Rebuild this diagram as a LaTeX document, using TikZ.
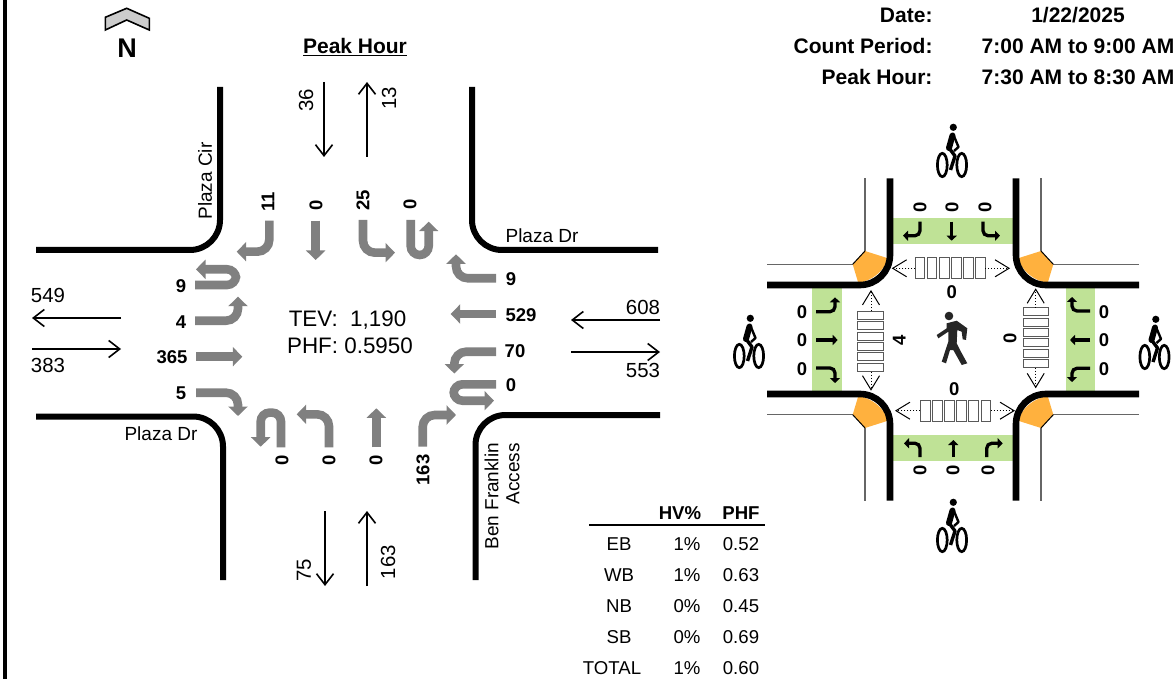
\documentclass[tikz,border=0pt]{standalone}
\usepackage{fontspec}
\setmainfont{Liberation Sans}
\usetikzlibrary{arrows.meta, positioning, calc}
\definecolor{bandgreen}{RGB}{191,226,150}
\definecolor{cornerorange}{RGB}{255,177,62}

\begin{document}
\begin{tikzpicture}[
    x=1pt, y=-1pt,
    every node/.style={inner sep=0pt, outer sep=0pt},
    head/.style={font=\fontsize{21}{24}\bfseries\selectfont},
    approach/.style={font=\fontsize{20.4}{23}\selectfont},
    street/.style={font=\fontsize{19}{21}\selectfont},
    central/.style={font=\fontsize{22.4}{25}\selectfont},
    count/.style={font=\fontsize{18.5}{20}\bfseries\selectfont},
    tabtxt/.style={font=\fontsize{18.6}{20}\selectfont},
    tabhead/.style={font=\fontsize{18.6}{20}\bfseries\selectfont},
    curb/.style={line width=6pt, rounded corners=30pt},
    curbwide/.style={line width=6.6pt, rounded corners=30pt},
    lane/.style={line width=8.6pt, draw=black!50, rounded corners=12pt,
                 -{Triangle[length=9.5pt, width=19pt]}},
    uturn/.style={line width=8.6pt, draw=black!50, rounded corners=9pt,
                  -{Triangle[length=9.5pt, width=19pt]}},
    minilane/.style={line width=3.3pt, rounded corners=5pt,
                     -{Triangle[length=5pt, width=10pt]}},
    flow/.style={line width=1.6pt, -{Straight Barb[length=11pt, width=17pt, line width=1.6pt]}},
    walkflow/.style={line width=1pt, dotted,
                     -{Straight Barb[length=14pt, width=17pt, line width=1pt, line join=miter]}},
    band/.style={fill=bandgreen, draw=none},
    corner/.pic={
        \fill[cornerorange] (-88,-88.5) -- (-65,-81.2)
            .. controls (-69,-68) and (-81,-59) .. (-94.7,-56.5) -- (-100.3,-75.2) -- cycle;
        \draw[line width=1.3pt, black!60] (-88,-161) -- (-88,-88.5);
        \draw[line width=1.3pt, black!60] (-100.3,-75.2) -- (-186,-75.2);
        \draw[line width=1pt] (-88,-88.5) -- (-100.3,-75.2);
        \draw[curbwide] (-63,-161) -- (-63,-54.5) -- (-186,-54.5);
    },
    walk/.pic={
        \draw[line width=1pt, black!65, fill=white]
            (-35,-10.7) rectangle (-25.5,10.7) (-22.9,-10.7) rectangle (-13.4,10.7)
            (-10.8,-10.7) rectangle (-1.3,10.7) (1.3,-10.7) rectangle (10.8,10.7)
            (13.4,-10.7) rectangle (22.9,10.7) (25.5,-10.7) rectangle (35,10.7);
    },
    bike/.pic={
        \draw[line width=2.7pt] (-9.7,0) ellipse (4.9 and 11.7);
        \draw[line width=2.7pt] (9.7,0) ellipse (4.9 and 11.7);
        \fill (1.3,-37.7) circle (3.6);
        \draw[line width=6pt, line cap=round] (0.5,-29.5) -- (-3,-17);
        \draw[line width=2.4pt, line join=round] (1.5,-30) -- (6.5,-18) -- (2,-14);
        \draw[line width=3.4pt, line join=round] (-3,-17) -- (3,-9) -- (-1.5,5);
    }
]
\useasboundingbox (0,0) rectangle (1176,679);
% Left edge
\fill (3,0) rectangle (7,679);

% North arrow
\draw[line width=1.6pt, fill=black!20] (105.3,17.3) -- (126.7,8.3) -- (149.3,18.3) -- (149.3,30)
    -- (126.7,20) -- (105.3,30) -- cycle;
\node[font=\fontsize{27}{29}\bfseries\selectfont] (north) at (127,48) {N};

% Title and header block
\node[head] (title) at (355,47) {\underline{Peak Hour}};
\node[head, anchor=east] (dateKey) at (932.5,15) {Date:};
\node[head, anchor=east] (periodKey) at (932.5,46) {Count Period:};
\node[head, anchor=east] (peakKey) at (932.5,77) {Peak Hour:};
\node[head] (dateVal) at (1078,15) {1/22/2025};
\node[head] (periodVal) at (1078,46) {7:00 AM to 9:00 AM};
\node[head] (peakVal) at (1078,77) {7:30 AM to 8:30 AM};

% Road edges
\draw[curb] (36,250) -- (220,250) -- (220,87);
\draw[curb] (472,87) -- (472,250) -- (658,250);
\draw[curb] (36,416.5) -- (223,416.5) -- (223,580);
\draw[curb] (475.5,580) -- (475.5,415) -- (660,415);

% Street names
\node[street, rotate=90] (plazaCir) at (205,181) {Plaza Cir};
\node[street] (plazaDrE) at (542,236) {Plaza Dr};
\node[street] (plazaDrW) at (161,434) {Plaza Dr};
\node[street, rotate=90, align=right, anchor=east] (access) at (502,443) {Ben Franklin\\Access};

% Approach and departure totals
\draw[flow] (324,82) -- (324,157);
\draw[flow] (367,157) -- (367,82);
\draw[flow] (121,318) -- (32,318);
\draw[flow] (32,349) -- (121,349);
\draw[flow] (660,320) -- (571,320);
\draw[flow] (571,352) -- (660,352);
\draw[flow] (325,511) -- (325,586);
\draw[flow] (367,586) -- (367,511);
\node[approach, rotate=90] (sbIn) at (306,100) {36};
\node[approach, rotate=90] (sbOut) at (389,98) {13};
\node[approach] (ebOut) at (48,295) {549};
\node[approach] (ebIn) at (48,365) {383};
\node[approach] (wbIn) at (643,307) {608};
\node[approach] (wbOut) at (643,370) {553};
\node[approach, rotate=90] (nbOut) at (304,570) {75};
\node[approach, rotate=90] (nbIn) at (388,562) {163};

% Turning movements, southbound
\draw[lane] (269.3,220.7) -- (269.3,251.7) -- (236.7,251.7);
\draw[lane] (315.7,220.7) -- (315.7,260);
\draw[lane] (363,220) -- (363,252.7) -- (395,252.7);
\draw[uturn] (410.7,220) -- (410.7,255) -- (428.7,255) -- (428.7,221.7);
% Turning movements, westbound
\draw[lane] (496,278.3) -- (456,278.3) -- (456,254.3);
\draw[lane] (496,314) -- (450.7,314);
\draw[lane] (496,351.7) -- (454.3,351.7) -- (454.3,373.5);
\draw[uturn] (496,384.3) -- (453.6,384.3) -- (453.6,400.7) -- (494,400.7);
% Turning movements, northbound
\draw[lane] (422.7,446.7) -- (422.7,415) -- (456,415);
\draw[lane] (376.3,447.3) -- (376.3,408.3);
\draw[lane] (329,447.3) -- (329,414.3) -- (296.7,414.3);
\draw[uturn] (281,447.3) -- (281,412.6) -- (260.7,412.6) -- (260.7,446.7);
% Turning movements, eastbound
\draw[lane] (196,392.7) -- (238,392.7) -- (238,416);
\draw[lane] (196,356.7) -- (242.3,356.7);
\draw[lane] (195,320.7) -- (238,320.7) -- (238,296.7);
\draw[uturn] (195,285) -- (236,285) -- (236,269.3) -- (196,269.3);

% Turning counts
\node[count, rotate=90] (sbR) at (268,202) {11};
\node[count, rotate=90] (sbT) at (316,205) {0};
\node[count, rotate=90] (sbL) at (363,200) {25};
\node[count, rotate=90] (sbU) at (410,204) {0};
\node[count] (wbR) at (511,279) {9};
\node[count] (wbT) at (521,315) {529};
\node[count] (wbL) at (515,351) {70};
\node[count] (wbU) at (511,385) {0};
\node[count, rotate=90] (nbU) at (282,460) {0};
\node[count, rotate=90] (nbL) at (329,460) {0};
\node[count, rotate=90] (nbT) at (376,460) {0};
\node[count, rotate=90] (nbR) at (423,470) {163};
\node[count] (ebU) at (181,286) {9};
\node[count] (ebL) at (181,322) {4};
\node[count] (ebT) at (172,357) {365};
\node[count] (ebR) at (181,393) {5};

% Central totals
\node[central] (tev) at (347.5,320) {TEV:\ \ 1,190};
\node[central] (phf) at (350,346) {PHF: 0.5950};

% Summary table
\draw[line width=2pt] (589,525) -- (765,525);
\node[tabhead] (hvHead) at (680,513) {HV\%};
\node[tabhead] (phfHead) at (741,513) {PHF};
\node[tabtxt] (ebName) at (619,544) {EB};
\node[tabtxt] (wbName) at (619,575) {WB};
\node[tabtxt] (nbName) at (619,606) {NB};
\node[tabtxt] (sbName) at (619,637) {SB};
\node[tabtxt] (allName) at (612,668) {TOTAL};
\node[tabtxt] (ebHv) at (687,544) {1\%};
\node[tabtxt] (wbHv) at (687,575) {1\%};
\node[tabtxt] (nbHv) at (687,606) {0\%};
\node[tabtxt] (sbHv) at (687,637) {0\%};
\node[tabtxt] (allHv) at (687,668) {1\%};
\node[tabtxt] (ebPhf) at (741,544) {0.52};
\node[tabtxt] (wbPhf) at (741,575) {0.63};
\node[tabtxt] (nbPhf) at (741,606) {0.45};
\node[tabtxt] (sbPhf) at (741,637) {0.69};
\node[tabtxt] (allPhf) at (741,668) {0.60};

% Small intersection: bands under the corners
\fill[band] (893,217.7) rectangle (1013,244);
\fill[band] (893,435) rectangle (1013,460.7);
\fill[band] (812.3,288) rectangle (841.7,391);
\fill[band] (1066,288) rectangle (1095,391);
\pic at (953,339.5) {corner};
\pic[xscale=-1] at (953,339.5) {corner};
\pic[yscale=-1] at (953,339.5) {corner};
\pic[xscale=-1, yscale=-1] at (953,339.5) {corner};

% Small lane arrows
\draw[minilane] (920,221.7) -- (920,235.7) -- (903,235.7);
\draw[minilane] (951.7,221.7) -- (951.7,240.7);
\draw[minilane] (983,221.7) -- (983,235.7) -- (1000,235.7);
\draw[minilane] (920,457) -- (920,443.3) -- (904,443.3);
\draw[minilane] (953.3,457) -- (953.3,440);
\draw[minilane] (986.7,457) -- (986.7,443.3) -- (1002.7,443.3);
\draw[minilane] (816,311.7) -- (835,311.7) -- (835,297.3);
\draw[minilane] (816,340) -- (837.7,340);
\draw[minilane] (816,368) -- (835,368) -- (835,383);
\draw[minilane] (1090,311) -- (1072,311) -- (1072,297);
\draw[minilane] (1090,340) -- (1070,340);
\draw[minilane] (1090,368.3) -- (1072,368.3) -- (1072,382);

% Small intersection counts
\node[count, rotate=90] (bikeNa) at (920,207) {0};
\node[count, rotate=90] (bikeNb) at (952,207) {0};
\node[count, rotate=90] (bikeNc) at (985,207) {0};
\node[count, rotate=90] (bikeSa) at (920,470) {0};
\node[count, rotate=90] (bikeSb) at (953,470) {0};
\node[count, rotate=90] (bikeSc) at (988,470) {0};
\node[count] (bikeWa) at (802,312) {0};
\node[count] (bikeWb) at (802,340) {0};
\node[count] (bikeWc) at (802,369) {0};
\node[count] (bikeEa) at (1104,312) {0};
\node[count] (bikeEb) at (1104,340) {0};
\node[count] (bikeEc) at (1104,369) {0};

% Crosswalks
\pic at (950.3,268) {walk};
\pic at (955.5,411) {walk};
\pic[rotate=90, xscale=.857, yscale=1.2] at (870.5,341.3) {walk};
\pic[rotate=90, xscale=.857, yscale=1.2] at (1036,337.7) {walk};
\draw[walkflow] (915.3,268.3) -- (891.7,268.3);
\draw[walkflow] (985.3,268.3) -- (1010,268.3);
\draw[walkflow] (920.3,410.7) -- (895,410.7);
\draw[walkflow] (990.7,410.7) -- (1015,410.7);
\draw[walkflow] (871,311) -- (871,290);
\draw[walkflow] (871,371.7) -- (871,390.7);
\draw[walkflow] (1035.7,307.7) -- (1035.7,288.3);
\draw[walkflow] (1035.7,367.7) -- (1035.7,388.3);
\node[count] (walkN) at (951.7,291.7) {0};
\node[count] (walkS) at (954.3,389.3) {0};
\node[count, rotate=90] (walkW) at (899.3,340) {4};
\node[count, rotate=90] (walkE) at (1010,338.3) {0};

% Pedestrian
\fill[black!85] (949,316) circle (4.3);
\fill[black!85] (946.7,323.3) -- (956.7,320.7) -- (967.3,328.3) -- (966,340) -- (962.7,339.3)
    -- (961.7,331.7) -- (957.3,330) -- (956.7,343.3) -- (960,350) -- (967.3,363.3) -- (961.7,365)
    -- (953.3,350) -- (950,350) -- (946,363.3) -- (941.7,361.7) -- (948.3,341.7) -- (948.3,331.7)
    -- (938.3,338.3) -- (936.7,335) -- (946.7,328.3) -- cycle;

% Cyclists
\pic at (952,165) {bike};
\pic at (952,540) {bike};
\pic at (749,356) {bike};
\pic at (1154.5,357) {bike};
\end{tikzpicture}
\end{document}
